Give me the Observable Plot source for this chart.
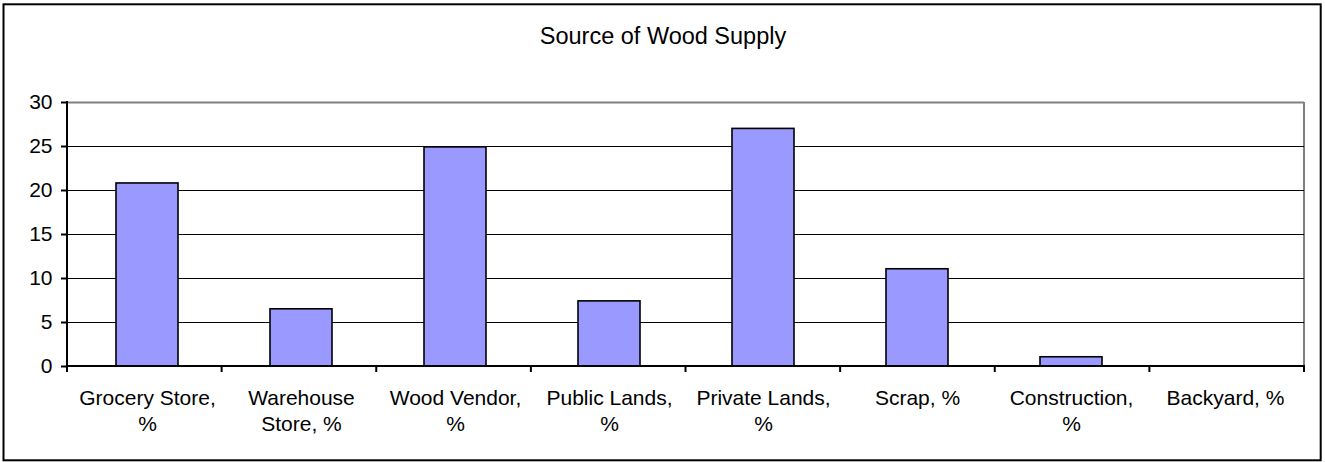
<!DOCTYPE html>
<html>
<head>
<meta charset="utf-8">
<script src="https://cdn.jsdelivr.net/npm/d3@7"></script>
<script src="https://cdn.jsdelivr.net/npm/@observablehq/plot@0.6"></script>
<style>
  html, body { margin: 0; padding: 0; background: #fff; }
  #chart svg { display: block; }
</style>
</head>
<body>
<div id="chart"></div>
<script>
const title = "Source of Wood Supply";
const categories = ["Grocery Store, %", "Warehouse Store, %", "Wood Vendor, %", "Public Lands, %", "Private Lands, %", "Scrap, %", "Construction, %", "Backyard, %"];
const labels = ["Grocery Store,\n%", "Warehouse\nStore, %", "Wood Vendor,\n%", "Public Lands,\n%", "Private Lands,\n%", "Scrap, %", "Construction,\n%", "Backyard, %"];
const values = [20.8, 6.5, 24.9, 7.4, 27.0, 11.05, 1.05, 0];
const yTicks = [0, 5, 10, 15, 20, 25, 30];
const gridValues = [5, 10, 15, 20, 25];

const data = categories.map((c, i) => ({cat: c, label: labels[i], value: values[i]}));
const FONT = "'Liberation Sans', Arial, sans-serif";
const ns = "http://www.w3.org/2000/svg";

function el(tag, attrs) {
  const e = document.createElementNS(ns, tag);
  for (const k in attrs) e.setAttribute(k, attrs[k]);
  return e;
}

// outer chart border and gray right edge of plot area
function backFrame(index, scales, values, dim) {
  const x1 = dim.width - dim.marginRight;
  const y0 = dim.marginTop, y1 = dim.height - dim.marginBottom;
  const g = el("g", {});
  g.appendChild(el("rect", {x: 3.5, y: 4.3, width: dim.width - 7.8, height: dim.height - 6, fill: "none", stroke: "#000", "stroke-width": 2}));
  g.appendChild(el("line", {x1: x1, x2: x1, y1: y0, y2: y1, stroke: "#808080", "stroke-width": 2}));
  return g;
}

// axis lines and category boundary ticks
function axes(index, scales, values, dim) {
  const x0 = dim.marginLeft, x1 = dim.width - dim.marginRight;
  const y0 = dim.marginTop, y1 = dim.height - dim.marginBottom;
  const n = categories.length, step = (x1 - x0) / n;
  const g = el("g", {stroke: "#000", "stroke-width": 2});
  g.appendChild(el("line", {x1: x0, x2: x0, y1: y0 - 1, y2: y1 + 1}));
  g.appendChild(el("line", {x1: x0 - 1, x2: x1 + 1, y1: y1, y2: y1}));
  for (let i = 0; i <= n; i++) {
    const x = x0 + i * step;
    g.appendChild(el("line", {x1: x, x2: x, y1: y1, y2: y1 + 6}));
  }
  return g;
}

const chart = Plot.plot({
  width: 1325,
  height: 462,
  marginLeft: 67,
  marginRight: 21,
  marginTop: 102,
  marginBottom: 96,
  style: {fontFamily: FONT, background: "#fff", color: "#000", overflow: "visible"},
  x: {type: "band", domain: categories, paddingInner: 0.6, paddingOuter: 0.3, axis: null},
  y: {domain: [0, 30], axis: null},
  marks: [
    backFrame,
    Plot.ruleY(gridValues, {stroke: "#000", strokeWidth: 1.2}),
    Plot.ruleY([30], {stroke: "#808080", strokeWidth: 2}),
    Plot.barY(data, {x: "cat", y: "value", fill: "#9999FF", stroke: "#000", strokeWidth: 1.6}),
    axes,
    Plot.axisY({ticks: yTicks, label: null, tickSize: 6, tickPadding: 9, fontSize: 21, stroke: "#000", strokeWidth: 2, tickFormat: d => String(d)}),
    Plot.text(data, {x: "cat", text: "label", frameAnchor: "bottom", lineAnchor: "top", dy: 20, lineHeight: 1.25, fontSize: 21, fill: "#000"}),
    Plot.text([title], {frameAnchor: "top", lineAnchor: "middle", dx: -23, dy: -66, fontSize: 23.5, fill: "#000"})
  ]
});
document.getElementById("chart").appendChild(chart);
</script>
</body>
</html>
